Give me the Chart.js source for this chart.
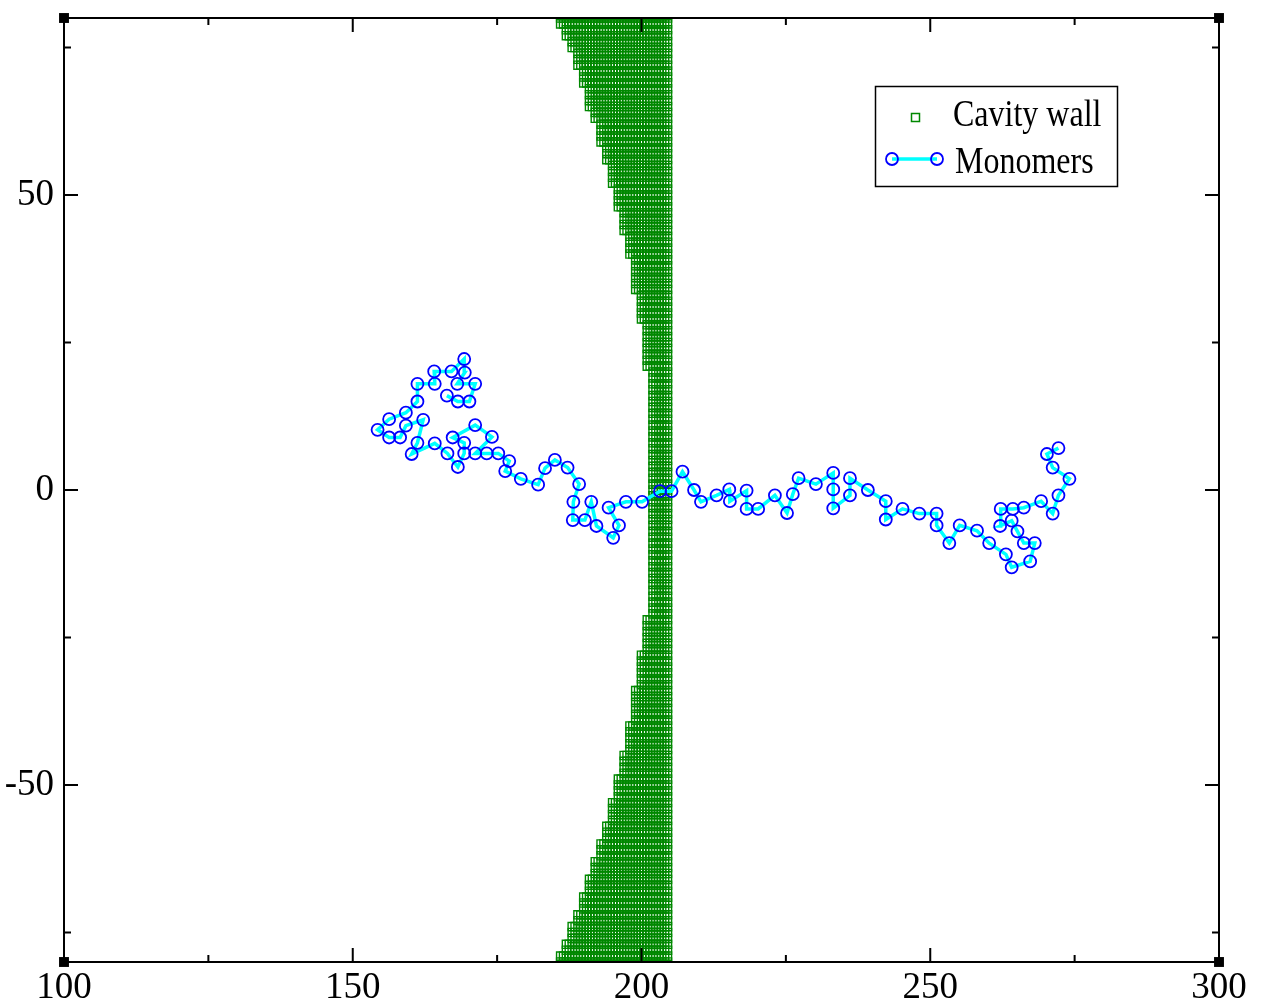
<!DOCTYPE html>
<html><head><meta charset="utf-8">
<script src="https://cdn.jsdelivr.net/npm/chart.js@4/dist/chart.umd.min.js"></script>
<style>html,body{margin:0;padding:0;background:#fff;} #c{display:block;}</style>
</head><body>
<canvas id="c" width="1261" height="1006"></canvas>
<script>
// ---- axis ticks ----
const xMajorTicks = [100, 150, 200, 250, 300];
const xMinorTicks = [125, 175, 225, 275];
const yMajorTicks = [-50, 0, 50];
const yMinorTicks = [-75, -25, 25, 75];

// ---- cavity wall: rows (y) in bands, each band with its left-most x; wall runs to wallRightX ----
const wallBandTopY = [80, 78, 76, 74, 71, 68, 64, 62, 58, 55, 51, 47, 43, 39, 33, 28, 20, -22, -28, -34, -40, -45, -49, -53, -57, -60, -63, -66, -69, -72, -74, -77, -79];
const wallBandLeftX = [186, 187, 188, 189, 190, 191, 192, 193, 194, 195, 196, 197, 198, 199, 200, 201, 202, 201, 200, 199, 198, 197, 196, 195, 194, 193, 192, 191, 190, 189, 188, 187, 186];
const wallBottomY = -80;
const wallRightX = 204.5;
const wallStepX = 0.5;
const wallStepY = 1;

// ---- monomers (chain order) ----
const monomerX = [166.3,168.2,170.2,171.2,168.1,169.4,169.3,167.1,164.1,164.2,161.2,161.2,159.2,156.3,154.3,156.3,158.2,159.2,162.2,161.2,160.2,164.2,166.4,168.2,169.3,169.3,167.3,171.2,174.1,171.2,173.2,175.2,177.1,176.4,179.1,182.1,183.3,185.0,187.2,189.2,188.2,188.1,190.2,191.3,192.2,195.1,196.1,194.3,197.3,200.1,203.2,205.2,207.1,209.1,210.3,213.0,215.2,215.3,218.2,218.2,220.2,223.1,225.2,226.2,227.2,230.2,233.2,233.2,233.2,236.1,236.1,239.2,242.3,242.3,245.2,248.1,251.1,251.1,253.3,255.1,258.1,260.2,263.1,264.1,267.3,268.1,266.2,265.1,264.1,262.1,262.2,264.3,266.2,269.2,271.2,272.2,274.1,271.2,270.2,272.2];
const monomerY = [16.0,15.0,15.0,18.0,18.0,19.9,22.2,20.1,20.1,18.0,18.0,15.0,13.1,12.0,10.2,8.9,8.9,10.9,11.9,8.0,6.1,7.9,6.2,3.9,6.2,8.0,8.9,11.0,9.0,6.2,6.2,6.2,4.9,3.2,1.9,0.9,3.7,5.1,3.8,1.0,-2.0,-5.1,-5.1,-2.0,-6.1,-8.1,-6.0,-3.0,-2.0,-2.0,-0.2,-0.2,3.1,0,-2.0,-0.9,0.1,-1.9,-0.1,-3.2,-3.2,-0.9,-3.9,-0.7,2.0,1.0,2.9,0.1,-3.1,-0.9,2.0,0,-1.9,-5.0,-3.2,-4.0,-4.0,-6.0,-9.0,-6.0,-6.9,-9.0,-10.9,-13.1,-12.1,-9.0,-9.0,-7.0,-5.2,-6.1,-3.2,-3.2,-3.0,-1.9,-4.0,-0.9,1.9,3.8,6.1,7.1];

// ---- corner markers ----
const cornerX = [100, 300, 100, 300];
const cornerY = [80, 80, -80, -80];

const seriesLabels = ['Cavity wall', 'Monomers'];

// build wall point table from the bands
const wallPoints = [];
for (let b = 0; b < wallBandTopY.length; b++) {
  const top = wallBandTopY[b];
  const bottom = b + 1 < wallBandTopY.length ? wallBandTopY[b + 1] + 1 : wallBottomY;
  for (let y = top; y >= bottom; y -= wallStepY) {
    for (let x = wallBandLeftX[b]; x <= wallRightX + 1e-9; x += wallStepX) {
      wallPoints.push({x: x, y: y});
    }
  }
}
const monomerPoints = monomerX.map((x, i) => ({x: x, y: monomerY[i]}));
const cornerPoints = cornerX.map((x, i) => ({x: x, y: cornerY[i]}));

const WALL_GREEN = 'rgb(0,136,0)';
const MONO_BLUE = '#0000ff';
const MONO_CYAN = '#00ffff';
const SERIF = '"Liberation Serif", "Times New Roman", serif';

const framePlugin = {
  id: 'frameTicks',
  afterDraw(chart) {
    const ctx = chart.ctx;
    const a = chart.chartArea;
    const xs = chart.scales.x, ys = chart.scales.y;
    ctx.save();
    ctx.strokeStyle = '#000';
    ctx.lineWidth = 2;
    ctx.beginPath();
    const tick = (vals, len) => {
      vals.forEach(v => {
        const px = xs.getPixelForValue(v);
        ctx.moveTo(px, a.bottom); ctx.lineTo(px, a.bottom - len);
        ctx.moveTo(px, a.top); ctx.lineTo(px, a.top + len);
      });
    };
    const tickY = (vals, len) => {
      vals.forEach(v => {
        const py = ys.getPixelForValue(v);
        ctx.moveTo(a.left, py); ctx.lineTo(a.left + len, py);
        ctx.moveTo(a.right, py); ctx.lineTo(a.right - len, py);
      });
    };
    tick(xMajorTicks, 14); tick(xMinorTicks, 7);
    tickY(yMajorTicks, 14); tickY(yMinorTicks, 7);
    ctx.stroke();
    ctx.strokeRect(a.left, a.top, a.right - a.left, a.bottom - a.top);

    // legend
    const lx = 875, ly = 86, lw = 242, lh = 100;
    ctx.fillStyle = '#fff';
    ctx.fillRect(lx, ly, lw, lh);
    ctx.lineWidth = 1.5;
    ctx.strokeStyle = '#000';
    ctx.strokeRect(lx + 0.5, ly + 0.5, lw, lh);
    // entry 1: square
    ctx.strokeStyle = WALL_GREEN;
    ctx.lineWidth = 1.5;
    ctx.strokeRect(911.5, 113.5, 8, 8);
    // entry 2: line + circles
    ctx.strokeStyle = MONO_CYAN;
    ctx.lineWidth = 3.5;
    ctx.beginPath(); ctx.moveTo(892, 159); ctx.lineTo(937, 159); ctx.stroke();
    ctx.strokeStyle = MONO_BLUE;
    ctx.lineWidth = 1.8;
    [892, 937].forEach(cx => { ctx.beginPath(); ctx.arc(cx, 159, 6, 0, Math.PI * 2); ctx.stroke(); });
    // texts (vertically stretched serif)
    ctx.fillStyle = '#000';
    ctx.font = '32px ' + SERIF;
    ctx.textBaseline = 'alphabetic';
    ctx.textAlign = 'left';
    const txt = (s, x, y) => { ctx.save(); ctx.translate(x, y); ctx.scale(1, 1.2); ctx.fillText(s, 0, 0); ctx.restore(); };
    txt(chart.data.datasets[0].label, 953, 126);
    txt(chart.data.datasets[1].label, 955, 173);
    ctx.restore();
  }
};

new Chart(document.getElementById('c'), {
  type: 'scatter',
  data: {
    datasets: [
      {
        label: seriesLabels[0],
        data: wallPoints,
        pointStyle: 'rect',
        pointRadius: 5.8,
        pointBorderWidth: 1.4,
        pointBorderColor: WALL_GREEN,
        pointBackgroundColor: 'rgba(0,0,0,0)',
        showLine: false,
        clip: 0,
        order: 3
      },
      {
        label: seriesLabels[1],
        data: monomerPoints,
        showLine: true,
        borderColor: MONO_CYAN,
        borderWidth: 3.5,
        pointStyle: 'circle',
        pointRadius: 6,
        pointBorderWidth: 1.8,
        pointBorderColor: MONO_BLUE,
        pointBackgroundColor: 'rgba(0,0,0,0)',
        order: 1
      },
      {
        label: 'corners',
        data: cornerPoints,
        pointStyle: 'rect',
        pointRadius: 7,
        pointBorderWidth: 0,
        pointBackgroundColor: '#000',
        pointBorderColor: '#000',
        showLine: false,
        clip: false,
        order: 0
      }
    ]
  },
  options: {
    responsive: false,
    animation: false,
    events: [],
    layout: {autoPadding: false, padding: {top: 18, right: 42, left: 0, bottom: 0}},
    plugins: {legend: {display: false}, tooltip: {enabled: false}},
    scales: {
      x: {
        type: 'linear', min: 100, max: 300,
        afterBuildTicks: s => { s.ticks = xMajorTicks.map(v => ({value: v})); },
        afterFit: s => { s.height = 44; s.paddingLeft = 0; s.paddingRight = 0; },
        grid: {display: false, drawTicks: false},
        border: {display: false},
        ticks: {color: '#000', padding: 4, maxRotation: 0, font: {family: SERIF, size: 37}}
      },
      y: {
        type: 'linear', min: -80, max: 80,
        afterBuildTicks: s => { s.ticks = yMajorTicks.map(v => ({value: v})); },
        afterFit: s => { s.width = 64; s.paddingTop = 0; s.paddingBottom = 0; },
        grid: {display: false, drawTicks: false},
        border: {display: false},
        ticks: {color: '#000', padding: 10, font: {family: SERIF, size: 37}}
      }
    }
  },
  plugins: [framePlugin]
});
</script>
</body></html>
